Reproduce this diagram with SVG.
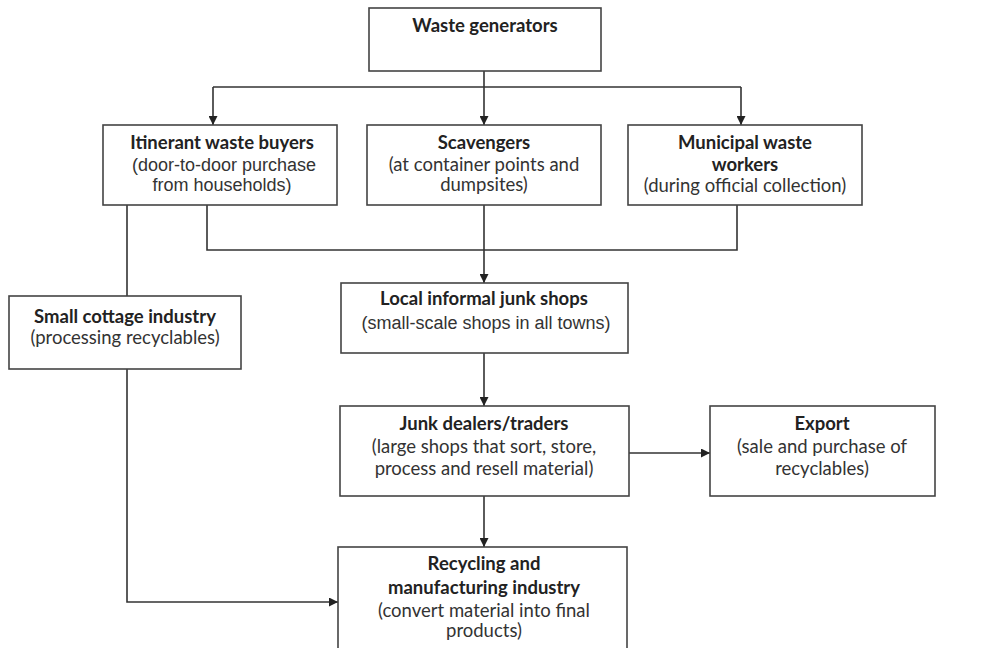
<svg xmlns="http://www.w3.org/2000/svg" width="989" height="648" viewBox="0 0 989 648">
<style>
.box{fill:#fff;stroke:#444;stroke-width:1.6}
.b{font-family:Lato,"Liberation Sans",sans-serif;font-weight:bold;font-size:18.5px;fill:#222;text-anchor:middle}
.c{font-family:Lato,"Liberation Sans",sans-serif;font-size:18.5px;fill:#333;text-anchor:middle}
.a{font-family:"Liberation Sans",Arial,sans-serif;font-size:18px;fill:#333;text-anchor:middle}
.ln{fill:none;stroke:#333;stroke-width:1.6}
</style>
<defs>
<marker id="ah" viewBox="0 0 10 10" refX="10" refY="5" markerWidth="9" markerHeight="9" markerUnits="userSpaceOnUse" orient="auto">
<path d="M0,0 L10,5 L0,10 Z" fill="#222"/>
</marker>
</defs>
<rect width="989" height="648" fill="#fff"/>
<g id="connectors">
<path class="ln" d="M213,87 H741"/>
<path class="ln" d="M484,71 V125" marker-end="url(#ah)"/>
<path class="ln" d="M213,87 V125" marker-end="url(#ah)"/>
<path class="ln" d="M741,87 V125" marker-end="url(#ah)"/>
<path class="ln" d="M207,205 V250 H737 V205"/>
<path class="ln" d="M484,205 V283" marker-end="url(#ah)"/>
<path class="ln" d="M127,205 V296"/>
<path class="ln" d="M127,369 V602 H338" marker-end="url(#ah)"/>
<path class="ln" d="M484,353 V406" marker-end="url(#ah)"/>
<path class="ln" d="M629,453 H710" marker-end="url(#ah)"/>
<path class="ln" d="M484,496 V547" marker-end="url(#ah)"/>
</g>
<g id="waste-generators">
<rect class="box" x="369" y="8" width="232" height="63"/>
<text class="b" x="485" y="32">Waste generators</text>
</g>
<g id="itinerant">
<rect class="box" x="103" y="125" width="234" height="80"/>
<text class="b" x="222" y="149">Itinerant  waste buyers</text>
<text class="a" x="224" y="171">(door-to-door purchase</text>
<text class="a" x="222" y="191">from households)</text>
</g>
<g id="scavengers">
<rect class="box" x="367" y="125" width="234" height="80"/>
<text class="b" x="484" y="149">Scavengers</text>
<text class="c" x="484" y="171">(at container points and</text>
<text class="c" x="484" y="191">dumpsites)</text>
</g>
<g id="municipal">
<rect class="box" x="628" y="125" width="234" height="80"/>
<text class="b" x="745" y="149">Municipal  waste</text>
<text class="b" x="745" y="171">workers</text>
<text class="c" x="745" y="192">(during official collection)</text>
</g>
<g id="cottage">
<rect class="box" x="9" y="296" width="232" height="73"/>
<text class="b" x="125" y="323">Small cottage industry</text>
<text class="c" x="125" y="344">(processing recyclables)</text>
</g>
<g id="local-junk-shops">
<rect class="box" x="341" y="283" width="287" height="70"/>
<text class="b" x="484" y="305">Local informal junk shops</text>
<text class="a" x="486" y="329">(small-scale shops in all towns)</text>
</g>
<g id="junk-dealers">
<rect class="box" x="340" y="406" width="289" height="90"/>
<text class="b" x="484" y="430">Junk dealers/traders</text>
<text class="c" x="484" y="453">(large shops that sort, store,</text>
<text class="c" x="484" y="475">process and resell material)</text>
</g>
<g id="export">
<rect class="box" x="710" y="406" width="225" height="90"/>
<text class="b" x="822" y="430">Export</text>
<text class="c" x="822" y="453">(sale and purchase of</text>
<text class="c" x="822" y="475">recyclables)</text>
</g>
<g id="recycling">
<rect class="box" x="338" y="547" width="289" height="110"/>
<text class="b" x="484" y="570">Recycling and</text>
<text class="b" x="484" y="594">manufacturing industry</text>
<text class="c" x="484" y="617">(convert material into final</text>
<text class="c" x="484" y="637">products)</text>
</g>
</svg>
